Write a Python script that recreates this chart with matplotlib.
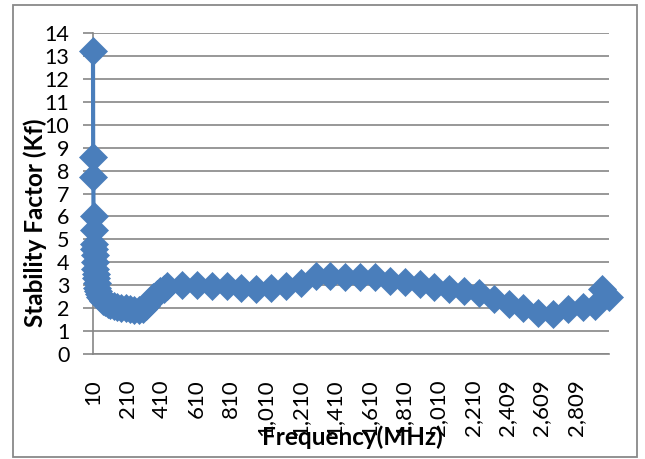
import matplotlib.pyplot as plt
from matplotlib.patches import Rectangle

# Frekvence (MHz) in faktor stabilnosti, odčitano s slike
freq = [10, 11, 12, 13, 14, 15, 17, 19, 21, 23, 26, 29, 32, 36, 40, 45, 50,
        60, 70, 80, 95, 110, 130, 150, 175, 200, 225, 250, 275, 300, 320, 340,
        360, 380, 400, 420,
        440, 526, 612, 698, 784, 870, 956, 1042, 1128, 1214, 1300, 1386, 1472,
        1558, 1644, 1730, 1816, 1902, 1988, 2074, 2160, 2246, 2332, 2418, 2504,
        2590, 2676, 2762, 2848, 2920, 2962, 3000]
kf = [13.2, 8.6, 7.7, 6.0, 5.4, 4.8, 4.6, 4.3, 4.0, 3.7, 3.5, 3.3, 3.1, 2.9,
      2.75, 2.6, 2.5, 2.4, 2.3, 2.25, 2.2, 2.15, 2.1, 2.05, 2.0, 2.0, 1.95,
      1.9, 1.9, 1.95, 2.1, 2.3, 2.5, 2.6, 2.75, 2.85,
      2.95, 3.0, 3.0, 2.95, 2.95, 2.9, 2.85, 2.9, 2.95, 3.1, 3.4, 3.4, 3.35,
      3.35, 3.35, 3.2, 3.12, 3.05, 2.92, 2.82, 2.75, 2.65, 2.42, 2.2, 2.0,
      1.8, 1.75, 1.95, 2.05, 2.1, 2.85, 2.5]

oznake_x = [10, 210, 410, 610, 810, 1010, 1210, 1410, 1610, 1810, 2010,
            2210, 2409, 2609, 2809]

plt.rcParams['font.family'] = ['Lato', 'DejaVu Sans']

fig = plt.figure(figsize=(6.45, 4.59), dpi=100)
ax = fig.add_axes([93/645, 1 - 354/459, 516/645, 321/459])

ax.plot(freq, kf, color='#4a7ebb', lw=3, marker='D', ms=14,
        mec='#4a7ebb', mew=0.5, zorder=3, clip_on=False)

ax.set_xlim(10, 3000)
ax.set_ylim(0, 14)
ax.set_yticks(range(15))
ax.set_xticks(oznake_x)
ax.set_xticklabels([f'{f:,}' for f in oznake_x], rotation=90)

ax.grid(axis='y', color='#868686', lw=1.2)
ax.set_axisbelow(True)
for s in ['top', 'right']:
    ax.spines[s].set_visible(False)
for s in ['left', 'bottom']:
    ax.spines[s].set_color('#868686')
    ax.spines[s].set_linewidth(1.2)

ax.tick_params(axis='y', length=7, width=1.2, color='#868686', pad=10,
               labelsize=15.5)
ax.tick_params(axis='x', length=0, pad=18, labelsize=16)

fig.text(35/645, 1 - 223/459, 'Stability Factor (Kf)', rotation=90,
         ha='center', va='center', fontsize=17.5, fontweight='bold')
fig.text(352/645, 1 - 437/459, 'Frequency(MHz)', ha='center', va='center',
         fontsize=17.5, fontweight='bold')

fig.patches.append(Rectangle((13/645, 2/459), 624/645, 452/459,
                             transform=fig.transFigure, fill=False,
                             ec='#898989', lw=1.3))

plt.savefig('out.png', dpi=100)
plt.close()
